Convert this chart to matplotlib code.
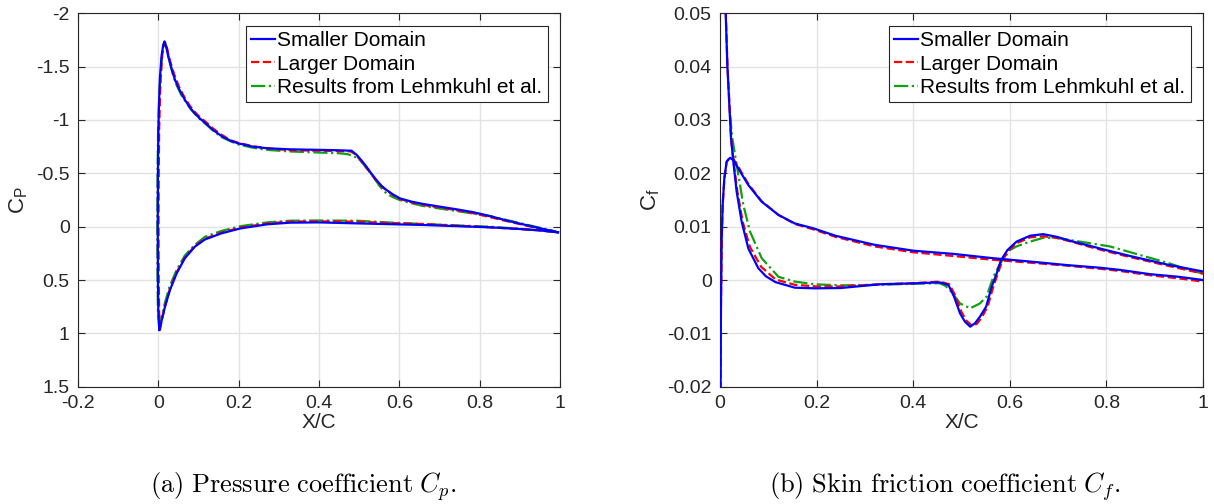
import matplotlib
matplotlib.use("Agg")
import matplotlib.pyplot as plt
from matplotlib.ticker import FuncFormatter

# ---- Cp, smaller domain ----
cp_up_small_x = [0.0025, 0.000, -0.001, -0.0015, -0.001, 0.000, 0.002, 0.004, 0.008, 0.012,
                 0.015, 0.020, 0.025, 0.033, 0.0415, 0.053, 0.066, 0.078, 0.091, 0.103,
                 0.116, 0.135, 0.157, 0.18, 0.2, 0.235, 0.271, 0.328, 0.4, 0.45,
                 0.481, 0.494, 0.506, 0.518, 0.53, 0.543, 0.555, 0.568, 0.585, 0.601,
                 0.63, 0.659, 0.70, 0.742, 0.785, 0.825, 0.87, 0.91, 0.95, 0.98, 0.995]
cp_up_small = [0.968, 0.8, 0.5, 0.0, -0.5, -0.9, -1.2, -1.4, -1.6, -1.70,
               -1.735, -1.68, -1.59, -1.48, -1.375, -1.28, -1.19, -1.12, -1.06, -1.015,
               -0.975, -0.91, -0.85, -0.805, -0.78, -0.75, -0.735, -0.725, -0.72, -0.716,
               -0.712, -0.672, -0.62, -0.5625, -0.50, -0.4375, -0.385, -0.344, -0.30, -0.266,
               -0.235, -0.213, -0.188, -0.163, -0.135, -0.10, -0.055, -0.02, 0.015, 0.04, 0.053]
cp_lo_small_x = [0.0025, 0.0085, 0.0166, 0.029, 0.0457, 0.066, 0.091, 0.116, 0.157, 0.205,
                 0.271, 0.328, 0.4, 0.494, 0.57, 0.659, 0.742, 0.825, 0.9, 0.95, 0.995]
cp_lo_small = [0.968, 0.875, 0.75, 0.593, 0.437, 0.296, 0.187, 0.12, 0.0625, 0.016,
               -0.022, -0.0375, -0.04, -0.031, -0.024, -0.016, -0.005, 0.006, 0.022, 0.035, 0.053]

# ---- Cp, larger domain ----
cp_up_large_x = [0.004, 0.002, 0.001, 0.0005, 0.001, 0.002, 0.004, 0.006, 0.0095, 0.013,
                 0.016, 0.021, 0.026, 0.034, 0.043, 0.054, 0.067, 0.079, 0.092, 0.104,
                 0.117, 0.136, 0.158, 0.18, 0.2, 0.235, 0.271, 0.328, 0.4, 0.45,
                 0.478, 0.49, 0.504, 0.518, 0.53, 0.543, 0.555, 0.568, 0.585, 0.601,
                 0.63, 0.659, 0.70, 0.742, 0.785, 0.825, 0.87, 0.91, 0.95, 0.98, 0.995]
cp_up_large = [0.97, 0.8, 0.5, 0.0, -0.5, -0.9, -1.2, -1.4, -1.6, -1.70,
               -1.735, -1.685, -1.6, -1.49, -1.39, -1.29, -1.20, -1.13, -1.07, -1.025,
               -0.985, -0.92, -0.86, -0.81, -0.785, -0.755, -0.735, -0.716, -0.712, -0.708,
               -0.706, -0.68, -0.62, -0.555, -0.49, -0.43, -0.38, -0.34, -0.295, -0.26,
               -0.228, -0.203, -0.18, -0.155, -0.125, -0.09, -0.05, -0.015, 0.018, 0.04, 0.053]
cp_lo_large_x = [0.004, 0.009, 0.017, 0.029, 0.045, 0.066, 0.091, 0.116, 0.157, 0.205,
                 0.271, 0.328, 0.4, 0.494, 0.57, 0.659, 0.742, 0.825, 0.9, 0.95, 0.995]
cp_lo_large = [0.97, 0.87, 0.74, 0.58, 0.43, 0.29, 0.18, 0.113, 0.055, 0.008,
               -0.03, -0.048, -0.05, -0.047, -0.035, -0.025, -0.01, 0.006, 0.022, 0.035, 0.053]

# ---- Cp, Lehmkuhl et al. ----
cp_up_ref_x = [0.0025, -0.001, -0.002, -0.0025, -0.002, -0.0005, 0.002, 0.005, 0.009, 0.013,
               0.017, 0.022, 0.028, 0.036, 0.045, 0.057, 0.07, 0.082, 0.095, 0.107,
               0.12, 0.138, 0.157, 0.18, 0.2, 0.235, 0.27, 0.328, 0.4, 0.45,
               0.469, 0.485, 0.502, 0.518, 0.535, 0.551, 0.568, 0.585, 0.601, 0.63,
               0.659, 0.70, 0.742, 0.785, 0.825, 0.87, 0.91, 0.95, 0.98, 0.995]
cp_up_ref = [0.96, 0.8, 0.5, 0.0, -0.5, -0.9, -1.2, -1.4, -1.58, -1.69,
             -1.725, -1.66, -1.55, -1.43, -1.33, -1.235, -1.16, -1.095, -1.04, -0.995,
             -0.955, -0.895, -0.84, -0.80, -0.77, -0.74, -0.72, -0.705, -0.695, -0.688,
             -0.681, -0.665, -0.625, -0.55, -0.469, -0.38, -0.31, -0.275, -0.25, -0.22,
             -0.194, -0.17, -0.147, -0.122, -0.10, -0.06, -0.025, 0.01, 0.035, 0.053]
cp_lo_ref_x = [0.0025, 0.008, 0.016, 0.028, 0.045, 0.066, 0.091, 0.116, 0.157, 0.205,
               0.271, 0.328, 0.4, 0.494, 0.57, 0.659, 0.742, 0.825, 0.9, 0.95, 0.995]
cp_lo_ref = [0.96, 0.85, 0.72, 0.56, 0.41, 0.27, 0.17, 0.095, 0.04, -0.005,
             -0.04, -0.056, -0.058, -0.056, -0.04, -0.025, -0.012, 0.0, 0.02, 0.035, 0.053]

# ---- Cf, pressure side (no separation) ----
cf_ps_x = [0.001, 0.002, 0.0035, 0.0055, 0.009, 0.0138, 0.0207, 0.0276, 0.038, 0.0587,
           0.086, 0.121, 0.155, 0.193, 0.239, 0.32, 0.4, 0.483, 0.564, 0.649,
           0.718, 0.787, 0.828, 0.89, 0.95, 1.0]
cf_ps_small = [-0.025, -0.0047, 0.0078, 0.0141, 0.0191, 0.0222, 0.0229, 0.0225, 0.0209, 0.0178,
               0.0147, 0.0122, 0.0106, 0.0097, 0.0083, 0.0066, 0.0055, 0.0049, 0.0041, 0.0034,
               0.0028, 0.0023, 0.0019, 0.0011, 0.0006, 0.0]
cf_ps_large = [-0.025, -0.005, 0.0075, 0.014, 0.019, 0.0222, 0.023, 0.0227, 0.0212, 0.018,
               0.0148, 0.0122, 0.0105, 0.0095, 0.0081, 0.0063, 0.0052, 0.0045, 0.0038, 0.0032,
               0.0027, 0.0021, 0.0017, 0.0009, 0.0003, -0.0003]

# ---- Cf, suction side ----
cf_ss_small_x = [0.0105, 0.0118, 0.0152, 0.0193, 0.0228, 0.0276, 0.0345, 0.0449, 0.0587, 0.0794,
                 0.095, 0.115, 0.155, 0.197, 0.25, 0.331, 0.4, 0.455, 0.473, 0.4845,
                 0.497, 0.507, 0.518, 0.528, 0.538, 0.551, 0.5625, 0.573, 0.582, 0.595,
                 0.614, 0.642, 0.669, 0.697, 0.731, 0.766, 0.80, 0.849, 0.931, 1.0]
cf_ss_small = [0.06, 0.05, 0.0403, 0.0328, 0.0266, 0.0222, 0.01656, 0.0109, 0.0059, 0.0022,
               0.0007, -0.0004, -0.00144, -0.00156, -0.0015, -0.0008, -0.00063, -0.00044, -0.00094, -0.0031,
               -0.00625, -0.0078, -0.00875, -0.0081, -0.0069, -0.005, -0.00125, 0.00125, 0.00375, 0.0056,
               0.0072, 0.0083, 0.0086, 0.0081, 0.0072, 0.0064, 0.0056, 0.0045, 0.0028, 0.0016]
cf_ss_large_x = [0.0108, 0.012, 0.0155, 0.0197, 0.023, 0.028, 0.036, 0.047, 0.062, 0.085,
                 0.115, 0.155, 0.2, 0.25, 0.331, 0.4, 0.455, 0.475, 0.487, 0.5,
                 0.51, 0.522, 0.532, 0.542, 0.554, 0.565, 0.575, 0.585, 0.597, 0.614,
                 0.642, 0.669, 0.697, 0.731, 0.766, 0.80, 0.849, 0.931, 1.0]
cf_ss_large = [0.06, 0.05, 0.040, 0.0328, 0.0266, 0.0222, 0.0166, 0.0109, 0.0062, 0.0025,
               0.0001, -0.0009, -0.0012, -0.0012, -0.0008, -0.0006, -0.0003, -0.0008, -0.0029, -0.006,
               -0.0076, -0.0086, -0.0082, -0.007, -0.005, -0.0015, 0.0012, 0.0037, 0.0055, 0.0069,
               0.008, 0.0082, 0.0079, 0.0071, 0.0062, 0.0054, 0.0043, 0.0026, 0.0012]
cf_ss_ref_x = [0.0207, 0.0255, 0.0345, 0.0483, 0.062, 0.0863, 0.121, 0.155, 0.197, 0.25,
               0.331, 0.4, 0.455, 0.467, 0.48, 0.497, 0.518, 0.538, 0.552, 0.566,
               0.58, 0.6, 0.614, 0.642, 0.669, 0.697, 0.731, 0.766, 0.807, 0.85,
               0.931, 0.971, 1.0]
cf_ss_ref = [0.031, 0.0266, 0.0216, 0.0141, 0.0091, 0.0041, 0.0006, -0.0003, -0.0008, -0.001,
             -0.0009, -0.0007, -0.0006, -0.0011, -0.0023, -0.0044, -0.0053, -0.0044, -0.0031, 0.0006,
             0.0031, 0.0056, 0.0063, 0.0072, 0.0079, 0.0079, 0.0074, 0.0069, 0.0063, 0.0052,
             0.0031, 0.0019, 0.0012]

labels = ["Smaller Domain", "Larger Domain", "Results from Lehmkuhl et al."]

plt.rcParams['font.family'] = ['Liberation Sans', 'DejaVu Sans']
plt.rcParams['mathtext.fontset'] = 'cm'
plt.rcParams['axes.unicode_minus'] = False

BLUE = '#0000ff'
RED = '#ff0000'
GREEN = '#10a010'
INK = '#262626'
LW = 1.6


def fmt(v, p):
    return '%g' % round(v, 4)


def style_axes(ax):
    ax.grid(True, color='#e3e3e3', linewidth=1.0)
    ax.set_axisbelow(True)
    ax.tick_params(direction='in', top=True, right=True, length=5, width=0.8,
                   labelsize=14, colors=INK, pad=6)
    ax.xaxis.set_major_formatter(FuncFormatter(fmt))
    ax.yaxis.set_major_formatter(FuncFormatter(fmt))
    for s in ax.spines.values():
        s.set_color(INK)
        s.set_linewidth(0.8)
    ax.set_xlabel('X/C', fontsize=15, color=INK, labelpad=1)


def add_legend(ax, handles):
    leg = ax.legend(handles, labels, loc='upper right', fontsize=15, frameon=True,
                    fancybox=False, edgecolor=INK, framealpha=1, handlelength=1.15,
                    handletextpad=0.12, borderpad=0.25, labelspacing=0.22,
                    borderaxespad=0.6)
    leg.get_frame().set_linewidth(0.8)


fig = plt.figure(figsize=(12.14, 5.04), dpi=100)
W, H = 1214, 504

# left: Cp
ax1 = fig.add_axes([78 / W, 1 - 386.7 / H, 482 / W, 373.4 / H])
g1, = ax1.plot(cp_up_ref_x, cp_up_ref, '-.', color=GREEN, lw=LW, zorder=2)
ax1.plot(cp_lo_ref_x, cp_lo_ref, '-.', color=GREEN, lw=LW, zorder=2)
r1, = ax1.plot(cp_up_large_x, cp_up_large, '--', color=RED, lw=LW, zorder=3)
ax1.plot(cp_lo_large_x, cp_lo_large, '--', color=RED, lw=LW, zorder=3)
b1, = ax1.plot(cp_up_small_x, cp_up_small, '-', color=BLUE, lw=LW, zorder=4)
ax1.plot(cp_lo_small_x, cp_lo_small, '-', color=BLUE, lw=LW, zorder=4)
ax1.set_xlim(-0.2, 1)
ax1.set_ylim(1.5, -2)
ax1.set_xticks([-0.2, 0, 0.2, 0.4, 0.6, 0.8, 1])
ax1.set_yticks([-2, -1.5, -1, -0.5, 0, 0.5, 1, 1.5])
style_axes(ax1)
ax1.set_ylabel(r'$\mathregular{C_P}$', fontsize=16, color=INK, labelpad=4)
add_legend(ax1, [b1, r1, g1])

# right: Cf
ax2 = fig.add_axes([720 / W, 1 - 386.7 / H, 483 / W, 373.4 / H])
g2, = ax2.plot(cf_ss_ref_x, cf_ss_ref, '-.', color=GREEN, lw=LW, zorder=2)
r2, = ax2.plot(cf_ps_x, cf_ps_large, '--', color=RED, lw=LW, zorder=3)
ax2.plot(cf_ss_large_x, cf_ss_large, '--', color=RED, lw=LW, zorder=3)
b2, = ax2.plot(cf_ps_x, cf_ps_small, '-', color=BLUE, lw=LW, zorder=4)
ax2.plot(cf_ss_small_x, cf_ss_small, '-', color=BLUE, lw=LW, zorder=4)
ax2.set_xlim(0, 1)
ax2.set_ylim(-0.02, 0.05)
ax2.set_xticks([0, 0.2, 0.4, 0.6, 0.8, 1])
ax2.set_yticks([-0.02, -0.01, 0, 0.01, 0.02, 0.03, 0.04, 0.05])
style_axes(ax2)
ax2.set_ylabel(r'$\mathregular{C_f}$', fontsize=16, color=INK, labelpad=4)
add_legend(ax2, [b2, r2, g2])

# captions
fig.text(303 / W, 1 - 487 / H, r'$\mathrm{(a)\ Pressure\ coefficient\ }C_p\mathrm{.}$',
         ha='center', va='center', fontsize=19)
fig.text(945 / W, 1 - 487 / H, r'$\mathrm{(b)\ Skin\ friction\ coefficient\ }C_f\mathrm{.}$',
         ha='center', va='center', fontsize=19)

fig.savefig('out.png', dpi=100)
